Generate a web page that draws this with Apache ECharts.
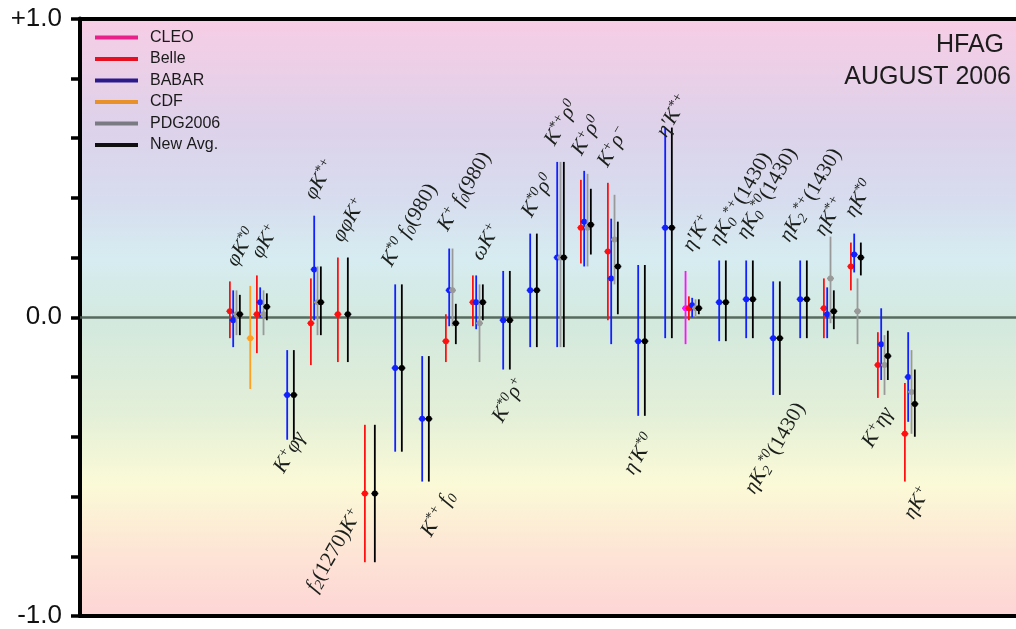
<!DOCTYPE html>
<html><head><meta charset="utf-8">
<script src="https://cdn.jsdelivr.net/npm/echarts@6/dist/echarts.min.js"></script>
<style>html,body{margin:0;padding:0;background:#fff}#c{width:1016px;height:629px}</style>
</head><body><div id="c"></div>
<script>
// ---- data: [groupIndex, value, errorBarLow, errorBarHigh] ----
const groups = ['φK*0','φK+','K+φγ','φK*+','φφK+','f2(1270)K+','K*0f0(980)','K*+f0','K+f0(980)','ωK+','K*0ρ+','K*0ρ0','K*+ρ0','K+ρ0','K+ρ-','η\'K*0','η\'K*+','η\'K+','ηK0*+(1430)','ηK0*0(1430)','ηK2*0(1430)','ηK2*+(1430)','ηK*+','ηK*0','K+ηγ','ηK+'];
const cleo = [[17,0.03,-0.09,0.155]];
const belle = [[0,0.02,-0.07,0.12],[1,0.01,-0.12,0.14],[3,-0.02,-0.16,0.13],[4,0.01,-0.15,0.20],[5,-0.59,-0.82,-0.36],[8,-0.08,-0.15,0.01],[9,0.05,-0.03,0.14],[13,0.30,0.18,0.46],[14,0.22,-0.01,0.45],[17,0.03,-0.01,0.07],[22,0.03,-0.07,0.13],[23,0.17,0.09,0.25],[24,-0.16,-0.27,-0.05],[25,-0.39,-0.55,-0.22]];
const babar = [[0,-0.01,-0.10,0.09],[1,0.05,0.00,0.10],[2,-0.26,-0.41,-0.11],[3,0.16,-0.01,0.34],[6,-0.17,-0.45,0.11],[7,-0.34,-0.55,-0.13],[8,0.09,-0.03,0.23],[9,0.05,-0.04,0.14],[10,-0.01,-0.175,0.155],[11,0.09,-0.10,0.28],[12,0.20,-0.10,0.52],[13,0.32,0.17,0.49],[14,0.13,-0.09,0.33],[15,-0.08,-0.33,0.175],[16,0.30,-0.07,0.635],[17,0.04,0.00,0.065],[18,0.05,-0.08,0.19],[19,0.06,-0.07,0.19],[20,-0.07,-0.26,0.12],[21,0.06,-0.07,0.19],[22,0.01,-0.07,0.10],[23,0.21,0.15,0.28],[24,-0.09,-0.21,0.03],[25,-0.20,-0.35,-0.05]];
const cdf = [[1,-0.07,-0.24,0.105]];
const pdg = [[0,0.01,-0.06,0.09],[1,0.01,-0.06,0.09],[3,0.05,-0.06,0.17],[8,0.09,-0.03,0.23],[9,-0.02,-0.15,0.11],[12,0.20,-0.10,0.52],[13,0.30,0.17,0.48],[14,0.26,0.11,0.41],[17,0.03,0.00,0.06],[22,0.13,-0.02,0.27],[23,0.02,-0.09,0.13],[24,-0.16,-0.26,-0.06],[25,-0.25,-0.39,-0.11]];
const avg = [[0,0.01,-0.06,0.075],[1,0.035,-0.01,0.08],[2,-0.26,-0.41,-0.11],[3,0.05,-0.06,0.17],[4,0.01,-0.15,0.20],[5,-0.59,-0.82,-0.36],[6,-0.17,-0.45,0.11],[7,-0.34,-0.55,-0.13],[8,-0.02,-0.09,0.045],[9,0.05,-0.01,0.11],[10,-0.01,-0.175,0.155],[11,0.09,-0.10,0.28],[12,0.20,-0.10,0.52],[13,0.31,0.21,0.43],[14,0.17,0.01,0.32],[15,-0.08,-0.33,0.175],[16,0.30,-0.07,0.635],[17,0.03,0.01,0.06],[18,0.05,-0.08,0.19],[19,0.06,-0.07,0.19],[20,-0.07,-0.26,0.12],[21,0.06,-0.07,0.19],[22,0.02,-0.04,0.09],[23,0.20,0.14,0.25],[24,-0.13,-0.21,-0.045],[25,-0.29,-0.40,-0.175]];
const yTickLabels = {'1.0':'+1.0','0.0':'0.0','-1.0':'-1.0'};

// ---- label text (rich markup) ----
const labelText = [
 '{i|φK}{sp|*0}','{i|φK}{sp|+}','{i|K}{sp|+}{i|φγ}','{i|φK}{sp|*+}','{i|φφK}{sp|+}',
 '{i|f}{sb|2}{r|(1270)}{i|K}{sp|+}','{i|K}{sp|*0}{i| f}{sb|0}{r|(980)}','{i|K}{sp|*+}{i| f}{sb|0}',
 '{i|K}{sp|+}{i| f}{sb|0}{r|(980)}','{i|ωK}{sp|+}','{i|K}{sp|*0}{i|ρ}{sp|+}','{i|K}{sp|*0}{i|ρ}{sp|0}',
 '{i|K}{sp|*+}{i|ρ}{sp|0}','{i|K}{sp|+}{i|ρ}{sp|0}','{i|K}{sp|+}{i|ρ}{sp|−}',
 '{i|η′K}{sp|*0}','{i|η′K}{sp|*+}','{i|η′K}{sp|+}',
 '{i|ηK}{sb|0}{sp|*+}{r|(1430)}','{i|ηK}{sb|0}{sp|*0}{r|(1430)}','{i|ηK}{sb|2}{sp|*0}{r|(1430)}','{i|ηK}{sb|2}{sp|*+}{r|(1430)}',
 '{i|ηK}{sp|*+}','{i|ηK}{sp|*0}','{i|K}{sp|+}{i|ηγ}','{i|ηK}{sp|+}'
];
// ---- label layout (anchor in axis units, side a=above / b=below) ----
const labelLayout = [
 [-0.30,0.176,'a'],[0.62,0.203,'a'],[2.25,-0.39,'b'],[2.59,0.40,'a'],[3.62,0.258,'a'],
 [4.35,-0.647,'b'],[5.44,0.176,'a'],[7.8,-0.588,'b'],[7.51,0.295,'a'],[8.77,0.196,'a'],
 [10.42,-0.209,'b'],[10.63,0.341,'a'],[11.48,0.581,'a'],[12.48,0.548,'a'],[13.44,0.509,'a'],
 [15.2,-0.397,'b'],[15.62,0.608,'a'],[16.59,0.226,'a'],[17.59,0.245,'a'],[18.59,0.268,'a'],
 [20.76,-0.292,'b'],[20.18,0.258,'a'],[21.48,0.278,'a'],[22.59,0.341,'a'],[24.02,-0.308,'b'],[25.4,-0.572,'b']
];

const SLOT = 0.123;
const expts = [
 {name:'CLEO', data:cleo, slot:-4, color:'#ff10ff', legend:'#e8208a'},
 {name:'Belle', data:belle, slot:-3, color:'#ff1010', legend:'#e81020'},
 {name:'BABAR', data:babar, slot:-2, color:'#1020ff', legend:'#2c1a8c'},
 {name:'CDF', data:cdf, slot:-5, color:'#ffa020', legend:'#e8902a'},
 {name:'PDG2006', data:pdg, slot:-1, color:'#999999', legend:'#7a7a82'},
 {name:'New Avg.', data:avg, slot:0, color:'#000000', legend:'#101010'}
];

function errRender(color){
  return function(params, api){
    const x = api.value(0);
    const c = api.coord([x, api.value(1)]);
    const lo = api.coord([x, api.value(2)]);
    const hi = api.coord([x, api.value(3)]);
    return {type:'group', children:[
      {type:'line', shape:{x1:c[0],y1:lo[1],x2:c[0],y2:hi[1]}, style:{stroke:color, lineWidth:1.8}},
      {type:'line', shape:{x1:c[0]-3.5,y1:c[1],x2:c[0]+3.5,y2:c[1]}, style:{stroke:color, lineWidth:1.5}},
      {type:'circle', shape:{cx:c[0],cy:c[1],r:3}, style:{fill:color}}
    ]};
  };
}

const series = expts.map((e,k)=>({
  name:e.name, type:'custom', z: 3,
  itemStyle:{color:e.legend},
  renderItem: errRender(e.color),
  data: e.data.map(d=>[d[0]+e.slot*SLOT, d[1], d[2], d[3]]),
  encode:{x:0,y:[1,2,3]},
  markLine: k===0 ? {silent:true, symbol:'none', z:1, label:{show:false},
     lineStyle:{color:'#4a5c52', width:2.5, type:'solid', opacity:0.9}, data:[{yAxis:0}]} : undefined
}));

const TXT = '#1b1f1b';
const rich = {
  i:{font:'italic 21px "Liberation Serif"', lineHeight:24, fill:TXT},
  r:{font:'21px "Liberation Serif"', lineHeight:24, fill:TXT},
  sp:{font:'italic 14px "Liberation Serif"', lineHeight:12, verticalAlign:'top', fill:TXT},
  sb:{font:'italic 14px "Liberation Serif"', lineHeight:14, verticalAlign:'bottom', fill:TXT}
};
series.push({
  name:'labels', type:'custom', z:4, silent:true,
  data: labelLayout.map((l,i)=>[l[0], l[1], i]),
  encode:{x:0,y:1},
  renderItem(params, api){
    const idx = api.value(2);
    const p = api.coord([api.value(0), api.value(1)]);
    const side = labelLayout[idx][2];
    return {type:'text', x:p[0], y:p[1], rotation:Math.PI/3,
      style:{text:labelText[idx], rich:rich, align: side==='a'?'left':'right', verticalAlign:'middle',
        font:'italic 21px "Liberation Serif"', fill:TXT}};
  }
});

const chart = echarts.init(document.getElementById('c'), null, {renderer:'canvas'});
chart.setOption({
  animation:false,
  backgroundColor:'#ffffff',
  grid:{left:80, right:0, top:18.5, bottom:4, show:true, borderWidth:0,
    backgroundColor:{type:'linear', x:0, y:0, x2:0, y2:1, colorStops:[
      {offset:0, color:'#f7cde5'},{offset:0.18, color:'#ddd2ea'},{offset:0.30, color:'#d7dcee'},
      {offset:0.40, color:'#d6ecf1'},{offset:0.51, color:'#d3e9de'},{offset:0.66, color:'#e3efd8'},
      {offset:0.78, color:'#fbfad7'},{offset:0.89, color:'#fde5d5'},{offset:1, color:'#fdd5d6'}]}},
  legend:{orient:'vertical', left:95, top:29.5, padding:0, itemWidth:43, itemHeight:4, itemGap:5.5, icon:'rect',
    textStyle:{fontFamily:'Liberation Sans', fontSize:16, color:'#1a1a1a', lineHeight:15.5, padding:[0,0,0,7]},
    data: expts.map(e=>({name:e.name, itemStyle:{color:e.legend}}))},
  xAxis:[
    {type:'value', min:-5.92, max:28.747, position:'bottom', axisLine:{show:true, onZero:false, lineStyle:{color:'#000', width:4}},
     axisTick:{show:false}, axisLabel:{show:false}, splitLine:{show:false}},
    {type:'value', min:-5.92, max:28.747, position:'top', axisLine:{show:true, onZero:false, lineStyle:{color:'#000', width:4}},
     axisTick:{show:false}, axisLabel:{show:false}, splitLine:{show:false}}
  ],
  yAxis:{type:'value', min:-1, max:1, interval:0.2,
    axisLine:{show:true, onZero:false, lineStyle:{color:'#000', width:4}},
    axisTick:{show:true, length:9, lineStyle:{color:'#000', width:3.5}},
    axisLabel:{margin:18, fontFamily:'Liberation Sans', fontSize:26, color:'#111',
      formatter:v=>{const k=(Math.round(v*10)/10).toFixed(1); return yTickLabels[k]||'';}},
    splitLine:{show:false}},
  graphic:[
    {type:'text', right:12, top:33, style:{text:'HFAG', font:'25px "Liberation Sans"', fill:'#1c1c1c'}},
    {type:'text', right:5, top:65, style:{text:'AUGUST 2006', font:'25px "Liberation Sans"', fill:'#1c1c1c'}}
  ],
  series: series
});
</script></body></html>
